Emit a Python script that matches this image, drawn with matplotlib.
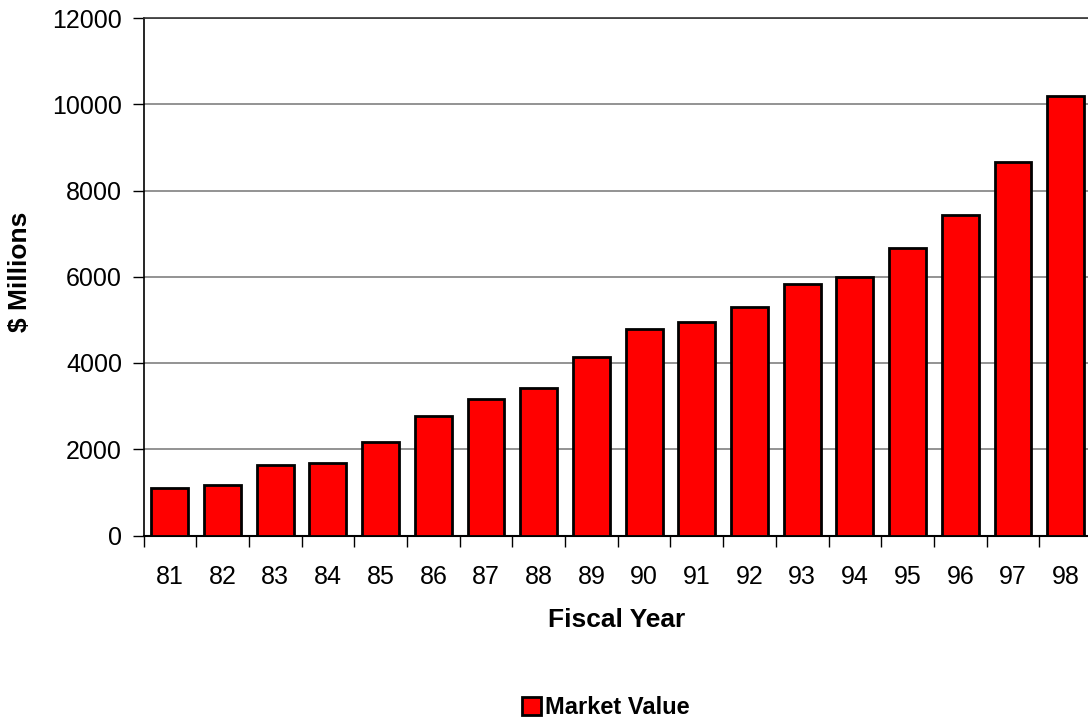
import matplotlib
matplotlib.use("Agg")
import matplotlib.pyplot as plt
from matplotlib.patches import Patch
import numpy as np

years = ["81", "82", "83", "84", "85", "86", "87", "88", "89", "90",
         "91", "92", "93", "94", "95", "96", "97", "98"]
market_value = [1110, 1160, 1640, 1680, 2170, 2760, 3170, 3430, 4150, 4800,
                4960, 5310, 5840, 5990, 6660, 7430, 8670, 10190]
y_ticks = [0, 2000, 4000, 6000, 8000, 10000, 12000]

plt.rcParams['font.family'] = ['Liberation Sans', 'DejaVu Sans']
FS = 18

W, H = 1088, 723
fig = plt.figure(figsize=(W / 100, H / 100), dpi=100)
left, right, top, bottom = 143.5, 1092, 18, 535.5
ax = fig.add_axes([left / W, 1 - bottom / H, (right - left) / W, (bottom - top) / H])

x = np.arange(len(years))
ax.bar(x, market_value, width=0.70, color='#ff0000', edgecolor='black', linewidth=2.0, zorder=3)

ax.set_xlim(-0.5, len(years) - 0.5)
ax.set_ylim(0, 12000)
ax.set_yticks(y_ticks)
ax.set_yticklabels([str(v) for v in y_ticks], fontsize=FS)
ax.yaxis.grid(True, color='#808080', linewidth=1.2, zorder=0)
ax.set_axisbelow(True)

ax.set_xticks(x)
ax.set_xticklabels(years, fontsize=FS)
ax.tick_params(axis='x', which='major', length=0, pad=21.5)
ax.set_xticks(np.arange(-0.5, len(years), 1), minor=True)
ax.tick_params(axis='x', which='minor', length=8, width=1, direction='out', color='black')
ax.tick_params(axis='y', length=8, width=1, direction='out', pad=7.5)

ax.spines['right'].set_visible(False)
ax.spines['top'].set_color('#333333')
ax.spines['left'].set_linewidth(1.2)
ax.spines['bottom'].set_linewidth(1.5)
ax.spines['top'].set_linewidth(1.2)

fig.text(20 / W, 1 - 272 / H, '$ Millions', rotation=90, ha='center', va='center',
         fontsize=19, fontweight='bold')
fig.text(617 / W, 1 - 620 / H, 'Fiscal Year', ha='center', va='center',
         fontsize=19, fontweight='bold')

handle = Patch(facecolor='#ff0000', edgecolor='black', linewidth=2.0)
fig.legend([handle], ['Market Value'], loc='center', bbox_to_anchor=(606 / W, 1 - 708 / H),
           frameon=False, prop={'size': 17, 'weight': 'bold'},
           handlelength=0.8, handleheight=0.8, handletextpad=0.2)

fig.savefig('out.png', dpi=100)
